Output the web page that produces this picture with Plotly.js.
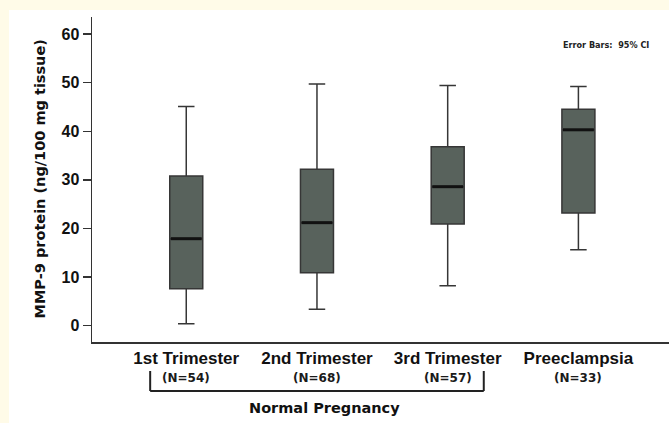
<!DOCTYPE html>
<html>
<head>
<meta charset="utf-8">
<script src="https://cdn.plot.ly/plotly-3.0.1.min.js"></script>
<style>
  html, body { margin: 0; padding: 0; background: #fffbe8; width: 669px; height: 423px; overflow: hidden; }
  #chart { position: absolute; left: 9px; top: 10px; width: 660px; height: 413px; background: #ffffff; }
</style>
</head>
<body>
<div id="chart"></div>
<script>
// ---- data ----
const categories = ['1st Trimester', '2nd Trimester', '3rd Trimester', 'Preeclampsia'];
const nCounts = [54, 68, 57, 33];
const lowerWhisker = [0.4, 3.4, 8.2, 15.6];
const q1Values = [7.6, 10.9, 20.9, 23.2];
const medianValues = [17.9, 21.2, 28.6, 40.3];
const q3Values = [30.8, 32.2, 36.8, 44.5];
const upperWhisker = [45.1, 49.7, 49.4, 49.2];
const yTicks = [0, 10, 20, 30, 40, 50, 60];
const groupLabel = 'Normal Pregnancy';
const noteText = 'Error Bars:  95% CI';
const yTitle = 'MMP-9 protein (ng/100 mg tissue)';

const idx = categories.map((_, i) => i);

const boxTrace = {
  type: 'box',
  x: idx,
  q1: q1Values,
  median: medianValues,
  q3: q3Values,
  lowerfence: lowerWhisker,
  upperfence: upperWhisker,
  boxpoints: false,
  width: 0.2525,
  whiskerwidth: 0.5,
  fillcolor: '#58625c',
  line: { color: '#363636', width: 1.5 },
  hoverinfo: 'skip',
  showlegend: false
};

const medianTrace = {
  type: 'scatter',
  mode: 'markers',
  x: idx,
  y: medianValues,
  marker: { symbol: 'line-ew', size: 22, line: { color: '#111111', width: 3 } },
  hoverinfo: 'skip',
  showlegend: false
};

const plotH = 325; // plot area height in px (used to convert px offsets to paper units)

const annotations = [];
nCounts.forEach((n, i) => {
  annotations.push({
    text: '(N=' + n + ')', x: i, xref: 'x', y: 0, yref: 'paper',
    yshift: -36, showarrow: false, xanchor: 'center', yanchor: 'middle',
    font: { family: 'DejaVu Sans', size: 12, color: '#1a1a1a', weight: 'bold' }
  });
});
annotations.push({
  text: groupLabel, x: 1.06, xref: 'x', y: 0, yref: 'paper',
  yshift: -66, showarrow: false, xanchor: 'center', yanchor: 'middle',
  font: { family: 'DejaVu Sans', size: 14.5, color: '#111111', weight: 'bold' }
});
annotations.push({
  text: noteText, x: 0.891, xref: 'paper', y: 0.914, yref: 'paper',
  showarrow: false, xanchor: 'center', yanchor: 'middle',
  font: { family: 'DejaVu Sans Condensed, DejaVu Sans', size: 9, color: '#222222', weight: 'bold' }
});
annotations.push({
  text: yTitle, x: 0, xref: 'paper', y: 0.5, yref: 'paper',
  xshift: -53, textangle: -90, showarrow: false, xanchor: 'center', yanchor: 'middle',
  font: { family: 'DejaVu Sans', size: 14.5, color: '#111111', weight: 'bold' }
});

const bTop = -29 / plotH, bBot = -49 / plotH;
const bx0 = 0 - 0.276, bx1 = 2 + 0.276;
const bracketLine = { color: '#222222', width: 2 };
const shapes = [
  { type: 'line', xref: 'x', yref: 'paper', x0: bx0, x1: bx0, y0: bTop, y1: bBot, line: bracketLine },
  { type: 'line', xref: 'x', yref: 'paper', x0: bx0, x1: bx1, y0: bBot, y1: bBot, line: bracketLine },
  { type: 'line', xref: 'x', yref: 'paper', x0: bx1, x1: bx1, y0: bTop, y1: bBot, line: bracketLine }
];

const layout = {
  width: 660, height: 413,
  margin: { l: 83, r: 0, t: 7, b: 81, pad: 0 },
  paper_bgcolor: '#ffffff',
  plot_bgcolor: '#ffffff',
  showlegend: false,
  xaxis: {
    type: 'linear',
    range: [-0.721, 3.693],
    tickmode: 'array', tickvals: idx, ticktext: categories,
    ticks: '', showgrid: false, zeroline: false,
    showline: true, linecolor: '#333333', linewidth: 1.5,
    tickfont: { family: 'Liberation Sans, Arial, sans-serif', size: 17, color: '#111111', weight: 'bold' }
  },
  yaxis: {
    range: [-3.35, 63.5],
    tickmode: 'array', tickvals: yTicks, ticktext: yTicks.map(String),
    ticks: 'outside', ticklen: 8, tickwidth: 1.5, tickcolor: '#333333',
    showgrid: false, zeroline: false,
    showline: true, linecolor: '#333333', linewidth: 1.5,
    tickfont: { family: 'Liberation Sans, Arial, sans-serif', size: 16, color: '#111111', weight: 'bold' }
  },
  annotations: annotations,
  shapes: shapes
};

Plotly.newPlot('chart', [boxTrace, medianTrace], layout, { staticPlot: true, displayModeBar: false });
</script>
</body>
</html>
